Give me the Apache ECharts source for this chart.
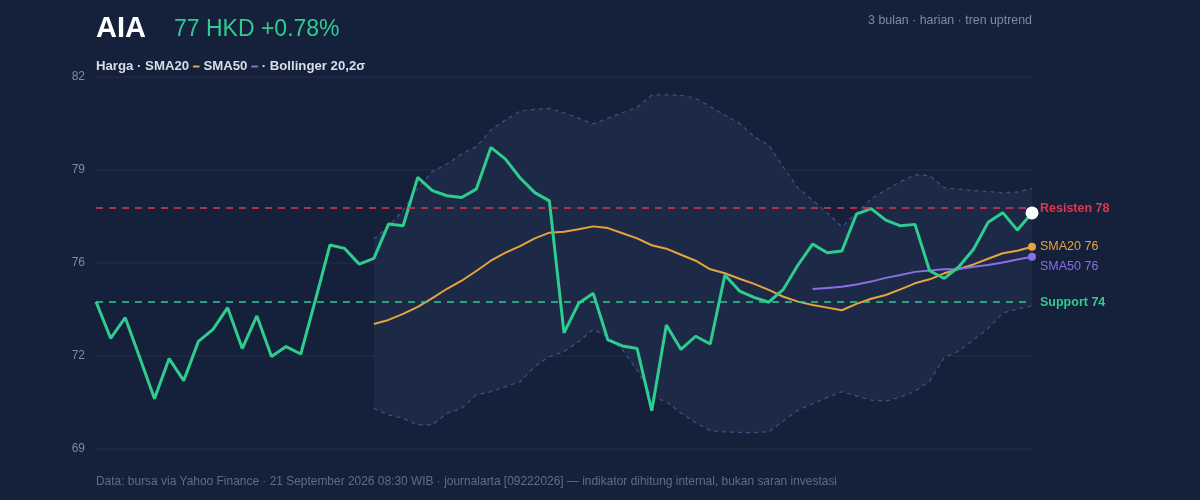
<!DOCTYPE html>
<html>
<head>
<meta charset="utf-8">
<script src="https://cdn.jsdelivr.net/npm/echarts@6/dist/echarts.min.js"></script>
<style>
  html, body { margin: 0; padding: 0; background: #15203a; }
  #chart { width: 1200px; height: 500px; }
</style>
</head>
<body>
<div id="chart"></div>
<script>
// ---- Data ----
const price = [74.15, 72.87, 73.59, 72.18, 70.76, 72.16, 71.39, 72.76, 73.18, 73.94,
  72.51, 73.65, 72.23, 72.58, 72.32, 74.20, 76.13, 76.01, 75.46, 75.66,
  76.86, 76.80, 78.49, 78.03, 77.85, 77.79, 78.08, 79.54, 79.13, 78.47,
  77.96, 77.67, 73.06, 74.09, 74.44, 72.81, 72.60, 72.51, 70.34, 73.33,
  72.48, 72.94, 72.67, 75.08, 74.52, 74.30, 74.13, 74.58, 75.43, 76.16,
  75.86, 75.92, 77.21, 77.40, 77.00, 76.80, 76.85, 75.23, 74.96, 75.37,
  75.98, 76.92, 77.26, 76.65, 77.25];

const sma20Start = 19;
const sma20 = [73.37, 73.51, 73.72, 73.97, 74.27, 74.60, 74.88, 75.22, 75.58, 75.86,
  76.09, 76.36, 76.56, 76.59, 76.68, 76.78, 76.72, 76.54, 76.36, 76.12,
  76.00, 75.79, 75.58, 75.28, 75.14, 74.95, 74.77, 74.56, 74.32, 74.15,
  74.03, 73.94, 73.85, 74.07, 74.25, 74.38, 74.58, 74.79, 74.93, 75.14,
  75.29, 75.45, 75.65, 75.84, 75.93, 76.07];

const sma50Start = 49;
const sma50 = [74.59, 74.63, 74.67, 74.75, 74.85, 74.98, 75.08, 75.19, 75.24, 75.28,
  75.29, 75.37, 75.43, 75.52, 75.62, 75.72];

const bandStart = 19;
const bbUpper = [76.34, 76.77, 77.35, 78.11, 78.69, 78.96, 79.31, 79.56, 80.15, 80.50,
  80.81, 80.87, 80.90, 80.75, 80.56, 80.36, 80.56, 80.75, 80.94, 81.37,
  81.38, 81.36, 81.26, 80.96, 80.67, 80.38, 79.91, 79.62, 78.85, 78.12,
  77.70, 77.25, 76.76, 77.25, 77.74, 78.05, 78.34, 78.58, 78.56, 78.13,
  78.08, 78.03, 78.00, 77.95, 77.98, 78.11];
const bbLower = [70.42, 70.19, 70.07, 69.84, 69.84, 70.25, 70.42, 70.89, 71.00, 71.18,
  71.35, 71.88, 72.23, 72.40, 72.75, 73.18, 72.92, 72.46, 71.76, 70.83,
  70.65, 70.25, 69.92, 69.64, 69.60, 69.58, 69.57, 69.60, 69.98, 70.36,
  70.58, 70.80, 71.00, 70.85, 70.71, 70.67, 70.81, 71.02, 71.37, 72.20,
  72.42, 72.81, 73.21, 73.75, 73.89, 74.00];

const resistance = 77.42;
const support = 74.13;
const yTicks = [69, 72.25, 75.5, 78.75, 82];

const ticker = 'AIA';
const priceText = '77 HKD +0.78%';
const subtitle = '3 bulan · harian · tren uptrend';
const resistLabel = 'Resisten 78';
const supportLabel = 'Support 74';
const sma20Label = 'SMA20 76';
const sma50Label = 'SMA50 76';
const footer = 'Data: bursa via Yahoo Finance · 21 September 2026 08:30 WIB · journalarta [09222026] — indikator dihitung internal, bukan saran investasi';

// ---- Derived ----
const categories = price.map((_, i) => i);
const pad = (start, arr) => Array(start).fill(null).concat(arr);
const sma20Full = pad(sma20Start, sma20);
const sma50Full = pad(sma50Start, sma50);
const upperFull = pad(bandStart, bbUpper);
const lowerFull = pad(bandStart, bbLower);
const bandWidth = pad(bandStart, bbUpper.map((u, i) => +(u - bbLower[i]).toFixed(2)));
const last = price.length - 1;

const C = {
  bg: '#15203a', band: '#1c2a48', grid: '#1f2b46', bandLine: '#3c5381',
  green: '#2ecc8f', red: '#e5354d', orange: '#e8a33a', purple: '#8a6ee6',
  axis: '#7d8ba5', foot: '#5d6d89', white: '#ffffff', legend: '#d6deeb'
};
const FONT = '"Liberation Sans", Arial, Helvetica, sans-serif';

const chart = echarts.init(document.getElementById('chart'), null, { renderer: 'canvas' });
chart.setOption({
  backgroundColor: C.bg,
  animation: false,
  textStyle: { fontFamily: FONT },
  grid: { left: 96, right: 168, top: 77, bottom: 51 },
  xAxis: {
    type: 'category', data: categories, boundaryGap: false,
    axisLine: { show: false }, axisTick: { show: false }, axisLabel: { show: false },
    splitLine: { show: false }
  },
  yAxis: {
    type: 'value', min: 69, max: 82,
    axisLine: { show: false },
    axisTick: { show: false, customValues: yTicks },
    axisLabel: {
      customValues: yTicks, color: C.axis, fontSize: 12, margin: 11,
      formatter: v => String(Math.round(v))
    },
    splitLine: { show: true, lineStyle: { color: C.grid, width: 1.5 } }
  },
  graphic: [
    { type: 'text', left: 96, top: 14, style: { text: ticker, font: 'bold 29px ' + FONT, fill: C.white } },
    { type: 'text', left: 174, top: 18, style: { text: priceText, font: '23px ' + FONT, fill: C.green } },
    { type: 'text', right: 168, top: 15, style: { text: subtitle, font: '12.4px ' + FONT, fill: C.axis, textAlign: 'right' } },
    { type: 'text', left: 96, top: 60, style: {
        text: '{a|Harga · SMA20 }{o| }{a| SMA50 }{p| }{a| · Bollinger 20,2σ}',
        rich: {
          a: { font: 'bold 13.2px ' + FONT, fill: C.legend, color: C.legend },
          o: { width: 7, height: 2, backgroundColor: C.orange, borderRadius: 1, fontSize: 2, verticalAlign: 'middle' },
          p: { width: 7, height: 2, backgroundColor: C.purple, borderRadius: 1, fontSize: 2, verticalAlign: 'middle' }
        }
      } },
    { type: 'text', left: 96, top: 476, style: { text: footer, font: '11.95px ' + FONT, fill: C.foot } }
  ],
  series: [
    { name: 'bbBase', type: 'line', data: lowerFull, stack: 'bb', symbol: 'none',
      lineStyle: { opacity: 0 }, silent: true, z: 1 },
    { name: 'bbFill', type: 'line', data: bandWidth, stack: 'bb', symbol: 'none',
      lineStyle: { opacity: 0 }, areaStyle: { color: C.band, opacity: 1 }, silent: true, z: 1 },
    { name: 'bbUpper', type: 'line', data: upperFull, symbol: 'none', z: 2,
      lineStyle: { color: C.bandLine, width: 1.2, type: [4, 4] } },
    { name: 'bbLower', type: 'line', data: lowerFull, symbol: 'none', z: 2,
      lineStyle: { color: C.bandLine, width: 1.2, type: [4, 4] } },
    { name: 'SMA20', type: 'line', data: sma20Full, symbol: 'none', z: 3,
      lineStyle: { color: C.orange, width: 2 },
      endLabel: { show: true, formatter: sma20Label, color: C.orange, fontSize: 12.5, distance: 8 } },
    { name: 'SMA50', type: 'line', data: sma50Full, symbol: 'none', z: 3,
      lineStyle: { color: C.purple, width: 2 },
      endLabel: { show: true, formatter: sma50Label, color: C.purple, fontSize: 12.5, distance: 8, offset: [0, 10] } },
    { name: 'Harga', type: 'line', data: price, symbol: 'none', z: 4,
      lineStyle: { color: C.green, width: 3 },
      markLine: {
        silent: true, symbol: 'none',
        data: [
          { yAxis: resistance, lineStyle: { color: C.red, width: 1.5, type: [7, 6] },
            label: { show: true, position: 'end', formatter: resistLabel,
              color: C.red, fontWeight: 'bold', fontSize: 12.5, distance: 8 } },
          { yAxis: support, lineStyle: { color: C.green, width: 1.5, type: [7, 6] },
            label: { show: true, position: 'end', formatter: supportLabel,
              color: C.green, fontWeight: 'bold', fontSize: 12.5, distance: 8 } }
        ]
      } },
    { name: 'dots', type: 'scatter', z: 5, silent: true,
      itemStyle: { opacity: 1 },
      data: [
        { value: [last, sma20[sma20.length - 1]], symbolSize: 8, itemStyle: { color: C.orange, opacity: 1 } },
        { value: [last, sma50[sma50.length - 1]], symbolSize: 8, itemStyle: { color: C.purple, opacity: 1 } },
        { value: [last, price[last]], symbolSize: 13, itemStyle: { color: C.white, opacity: 1 } }
      ] }
  ]
});
</script>
</body>
</html>
